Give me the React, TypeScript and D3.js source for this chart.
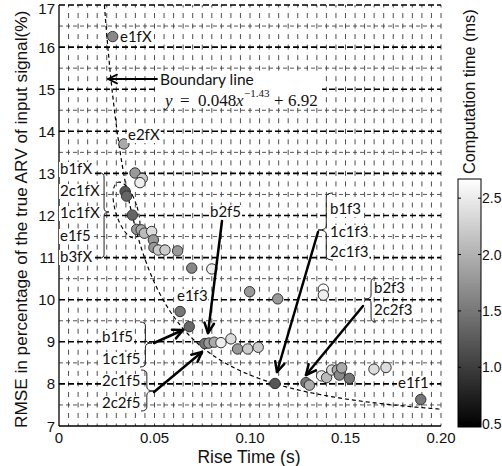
import React from "react";
import * as d3 from "d3";

// ---- data ----
const riseTime = [
  0.0281, 0.034, 0.0398, 0.0436, 0.0424, 0.0346, 0.0354, 0.0384, 0.0407, 0.043,
  0.0447, 0.0485, 0.0494, 0.0497, 0.052, 0.0555, 0.0621, 0.0695, 0.08, 0.0998,
  0.1145, 0.1384, 0.1384, 0.0634, 0.0682, 0.0764, 0.0785, 0.0813, 0.0848, 0.09,
  0.0935, 0.0988, 0.1043, 0.1131, 0.1293, 0.1311, 0.1375, 0.1401, 0.1428, 0.1457,
  0.1468, 0.148, 0.152, 0.1649, 0.1712, 0.1894,
];
const rmse = [
  16.25, 13.7, 13.01, 12.88, 12.78, 12.57, 12.46, 12.01, 11.67, 11.66,
  11.58, 11.62, 11.42, 11.24, 11.18, 11.18, 11.16, 10.75, 10.73, 10.19,
  10.02, 10.25, 10.11, 9.72, 9.36, 8.96, 8.97, 8.99, 8.98, 9.07,
  8.83, 8.83, 8.87, 8.01, 8.03, 7.97, 8.19, 8.15, 8.33, 8.33,
  8.21, 8.38, 8.13, 8.35, 8.39, 7.63,
];
const compTime = [
  1.64, 1.94, 1.79, 2.23, 2.52, 1.2, 1.35, 1.35, 1.79, 1.94,
  2.08, 2.38, 1.79, 1.79, 2.23, 2.23, 1.79, 1.64, 2.52, 1.79,
  1.79, 2.67, 2.52, 1.5, 1.35, 1.5, 1.79, 1.94, 2.52, 2.38,
  1.79, 2.23, 2.23, 1.2, 1.5, 1.94, 2.52, 2.08, 2.38, 1.94,
  1.64, 1.94, 1.5, 2.38, 2.38, 1.5,
];

const yTicks = [7, 8, 9, 10, 11, 12, 13, 14, 15, 16, 17];
const xTicks = [0, 0.05, 0.1, 0.15, 0.2];
const xTickLabels = ["0", "0.05", "0.10", "0.15", "0.20"];
const cbTicks = [0.5, 1.0, 1.5, 2.0, 2.5];
const cbTickLabels = ["0.5", "1.0", "1.5", "2.0", "2.5"];
const cbDomain = [0.47, 2.67];
const fitA = 0.048;
const fitB = -1.43;
const fitC = 6.92;

const W = 502;
const H = 466;
const LBL_FONT = "Lato, 'Open Sans', sans-serif";
const AX_FONT = "'Liberation Sans', Arial, sans-serif";

let ctx: CanvasRenderingContext2D | null = null;
function measure(text: string, font: string) {
  if (!ctx) ctx = document.createElement("canvas").getContext("2d");
  if (!ctx) return text.length * 8;
  ctx.font = font;
  return ctx.measureText(text).width;
}

function braceRight(x0: number, y1: number, y2: number, ym: number, w: number) {
  const xm = x0 + w * 0.45;
  const r = 4;
  return `M${x0},${y1} Q${xm},${y1} ${xm},${y1 + r} L${xm},${ym - r} Q${xm},${ym} ${x0 + w},${ym} Q${xm},${ym} ${xm},${ym + r} L${xm},${y2 - r} Q${xm},${y2} ${x0},${y2}`;
}
function braceLeft(x0: number, y1: number, y2: number, ym: number, w: number) {
  const xm = x0 - w * 0.45;
  const r = 4;
  return `M${x0},${y1} Q${xm},${y1} ${xm},${y1 + r} L${xm},${ym - r} Q${xm},${ym} ${x0 - w},${ym} Q${xm},${ym} ${xm},${ym + r} L${xm},${y2 - r} Q${xm},${y2} ${x0},${y2}`;
}

function Arrow({ x1, y1, x2, y2, sw = 2.5, head = 11 }: any) {
  const a = Math.atan2(y2 - y1, x2 - x1);
  const s = 0.45;
  const p1 = [x2 - head * Math.cos(a - s), y2 - head * Math.sin(a - s)];
  const p2 = [x2 - head * Math.cos(a + s), y2 - head * Math.sin(a + s)];
  return (
    <g stroke="#000" fill="none" strokeWidth={sw} strokeLinecap="round" strokeLinejoin="round">
      <line x1={x1} y1={y1} x2={x2} y2={y2} />
      <polyline points={`${p1[0]},${p1[1]} ${x2},${y2} ${p2[0]},${p2[1]}`} />
    </g>
  );
}

function Label({ x, y, text }: any) {
  const w = measure(text, `15px Lato`);
  return (
    <g>
      <rect x={x - 1} y={y - 12} width={w + 2} height={15} fill="#fff" />
      <text x={x} y={y} fontFamily={LBL_FONT} fontSize={15} fill="#111">
        {text}
      </text>
    </g>
  );
}

export default function App() {
  const x = d3.scaleLinear().domain([0, 0.2]).range([59, 441]);
  const y = d3.scaleLinear().domain([7, 17]).range([426, 5]);
  const color = d3.scaleLinear<string>().domain(cbDomain).range(["#000", "#fff"]);
  const cbY = d3.scaleLinear().domain(cbDomain).range([427, 179]);

  const halfLines = d3.range(7.5, 17.01, 0.5);
  const vLines = d3.range(1, 41).map((i) => i * 0.005);

  const fitX = d3.range(0, 401).map((i) => {
    const x0 = Math.pow((17 - fitC) / fitA, 1 / fitB);
    return x0 + (0.2 - x0) * (i / 400);
  });
  const fitLine = d3
    .line<number>()
    .x((d) => x(d))
    .y((d) => y(fitA * Math.pow(d, fitB) + fitC));

  const pts = riseTime.map((r, i) => ({ r, e: rmse[i], t: compTime[i] }));

  return (
    <svg width={W} height={H} style={{ position: "absolute", left: 0, top: 0 }}>
      <defs>
        <linearGradient id="cb" x1="0" y1="1" x2="0" y2="0">
          <stop offset="0" stopColor="#000" />
          <stop offset="1" stopColor="#fff" />
        </linearGradient>
      </defs>
      <rect x={0} y={0} width={W} height={H} fill="#fff" />

      {/* grid */}
      {vLines.map((v, i) => (
        <line
          key={"v" + i}
          x1={x(v)}
          x2={x(v)}
          y1={y(17)}
          y2={y(7)}
          stroke="#222"
          strokeWidth={0.8}
          strokeDasharray="5,5.525"
          strokeDashoffset={2.5}
        />
      ))}
      {halfLines.map((v, i) => {
        const major = Math.abs(v - Math.round(v)) < 1e-6;
        return (
          <line
            key={"h" + i}
            x1={x(0)}
            x2={x(0.2)}
            y1={y(v)}
            y2={y(v)}
            stroke={major ? "#000" : "#444"}
            strokeWidth={major ? 1.6 : 0.9}
            strokeDasharray={major ? "6,3" : "4,3"}
          />
        );
      })}
      {/* axes */}
      <line x1={x(0)} x2={x(0)} y1={y(17)} y2={y(7)} stroke="#000" strokeWidth={1.3} />
      <line x1={x(0)} x2={x(0.2)} y1={y(7)} y2={y(7)} stroke="#000" strokeWidth={1.3} />

      {/* boundary line */}
      <path d={fitLine(fitX) || ""} fill="none" stroke="#000" strokeWidth={1.2} strokeDasharray="4,3" />

      {/* dashed ellipse around cluster */}
      <ellipse
        cx={126.5}
        cy={210}
        rx={11}
        ry={29}
        transform="rotate(-17 126.5 210)"
        fill="none"
        stroke="#000"
        strokeWidth={1.1}
        strokeDasharray="4,3"
      />

      {/* points */}
      {pts.map((p, i) => (
        <circle key={"p" + i} cx={x(p.r)} cy={y(p.e)} r={5.2} fill={color(p.t)} stroke="#333" strokeWidth={1} />
      ))}

      {/* boundary annotation */}
      <rect x={157} y={72} width={165} height={36} fill="#fff" />
      <Arrow x1={157} y1={79} x2={108} y2={79} sw={1.8} head={10} />
      <text x={160} y={85} fontFamily={LBL_FONT} fontSize={15.5} fill="#111">
        Boundary line
      </text>
      <g fontFamily="'Liberation Serif', 'Times New Roman', serif" fontSize={17} fill="#111">
        <text x={165} y={106} fontStyle="italic">y</text>
        <text x={180} y={106}>=</text>
        <text x={198} y={106}>0.048</text>
        <text x={236} y={106} fontStyle="italic">x</text>
        <text x={244} y={97} fontSize={11}>−1.43</text>
        <text x={274} y={106}>+</text>
        <text x={288} y={106}>6.92</text>
      </g>

      {/* labels */}
      <Label x={120} y={42} text="e1fX" />
      <Label x={128} y={140} text="e2fX" />
      <Label x={60} y={174} text="b1fX" />
      <Label x={60} y={196} text="2c1fX" />
      <Label x={60} y={218} text="1c1fX" />
      <Label x={60} y={241} text="e1f5" />
      <Label x={60} y={262} text="b3fX" />
      <Label x={177} y={301} text="e1f3" />
      <Label x={210} y={217} text="b2f5" />
      <Label x={330} y={214} text="b1f3" />
      <Label x={330} y={237} text="1c1f3" />
      <Label x={330} y={257} text="2c1f3" />
      <Label x={374} y={293} text="b2f3" />
      <Label x={374} y={315} text="2c2f3" />
      <Label x={102} y={342} text="b1f5" />
      <Label x={102} y={364} text="1c1f5" />
      <Label x={102} y={386} text="2c1f5" />
      <Label x={102} y={408} text="2c2f5" />
      <Label x={398} y={388} text="e1f1" />

      {/* braces */}
      <g fill="none" stroke="#222" strokeWidth={1}>
        <path d={braceRight(100, 173, 258, 212, 9)} />
        <path d={braceLeft(333, 193, 260, 230, 15)} />
        <path d={braceLeft(376, 278, 322, 299, 11)} />
        <path d={braceRight(140, 322, 367, 343, 12)} />
        <path d={braceRight(141, 370, 411, 391, 13)} />
      </g>

      {/* arrows */}
      <Arrow x1={222} y1={221} x2={208} y2={333} />
      <Arrow x1={318} y1={232} x2={277} y2={372} />
      <Arrow x1={363} y1={306} x2={306} y2={375} />
      <Arrow x1={154} y1={343} x2={183} y2={330} />
      <Arrow x1={154} y1={392} x2={202} y2={352} />

      {/* tick labels */}
      <g fontFamily={AX_FONT} fontSize={15} fill="#111">
        {yTicks.map((t) => (
          <text key={"yt" + t} x={55} y={Math.max(y(t) + 5.5, 13.8)} textAnchor="end">
            {t}
          </text>
        ))}
        {xTicks.map((t, i) => (
          <text key={"xt" + t} x={x(t)} y={443} textAnchor="middle">
            {xTickLabels[i]}
          </text>
        ))}
      </g>
      {/* axis titles */}
      <text x={249} y={463} textAnchor="middle" fontFamily={AX_FONT} fontSize={17.5} fill="#111">
        Rise Time (s)
      </text>
      <text transform="translate(27,428) rotate(-90)" fontFamily={AX_FONT} fontSize={17.2} fill="#111">
        RMSE in percentage of the true ARV of input signal(%)
      </text>

      {/* colorbar */}
      <rect x={458} y={179} width={23} height={248} fill="url(#cb)" stroke="#000" strokeWidth={1} />
      {cbTicks.map((t, i) => (
        <g key={"cb" + t}>
          <line x1={458} x2={461} y1={cbY(t)} y2={cbY(t)} stroke="#000" strokeWidth={1} />
          <line x1={478} x2={481} y1={cbY(t)} y2={cbY(t)} stroke="#000" strokeWidth={1} />
          <text x={482} y={cbY(t) + 5} fontFamily={AX_FONT} fontSize={14} fill="#111">
            {cbTickLabels[i]}
          </text>
        </g>
      ))}
      <text transform="translate(475,174) rotate(-90)" fontFamily={AX_FONT} fontSize={16.3} fill="#111">
        Computation time (ms)
      </text>
    </svg>
  );
}
